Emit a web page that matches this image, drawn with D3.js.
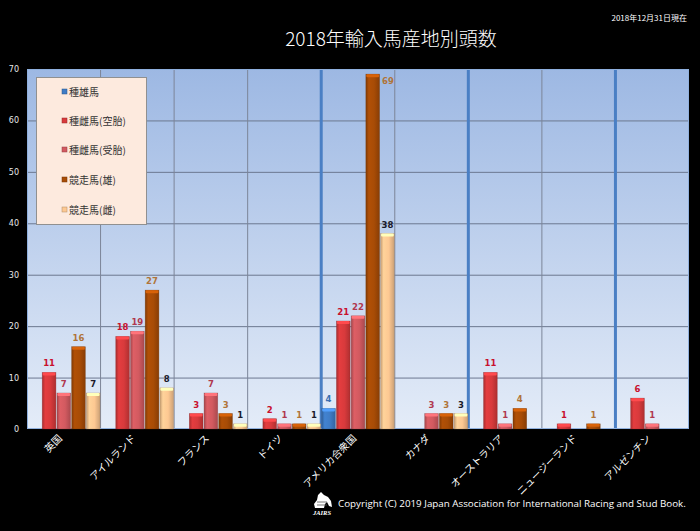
<!DOCTYPE html>
<html><head><meta charset="utf-8">
<script src="https://cdn.jsdelivr.net/npm/d3@7"></script>
<style>html,body{margin:0;padding:0;background:#000;}svg{display:block;}</style>
</head><body>
<svg id="c" width="700" height="531"></svg>
<script>
const categories = ["英国","アイルランド","フランス","ドイツ","アメリカ合衆国","カナダ","オーストラリア","ニュージーランド","アルゼンチン"];
const seriesNames = ["種雄馬","種雌馬(空胎)","種雌馬(受胎)","競走馬(雄)","競走馬(雌)"];
const stallion    = [0, 0, 0, 0, 4, 0, 0, 0, 0];
const mareBarren  = [11,18,3, 2, 21,0, 11,1, 6];
const marePregnant= [7, 19,7, 1, 22,3, 1, 0, 1];
const racerMale   = [16,27,3, 1, 69,3, 4, 1, 0];
const racerFemale = [7, 8, 1, 1, 38,3, 0, 0, 0];
const seriesValues = [stallion, mareBarren, marePregnant, racerMale, racerFemale];
const yTicks = [0,10,20,30,40,50,60,70];

const barColors   = ["#3f7cc6","#d83a3c","#d25a60","#a84c06","#fdc892"];
const labelColors = ["#3a6eb0","#c8102e","#b0384e","#b07438","#1a1a2a"];

const svg = d3.select("#c");
const W=700,H=531;
const L=27,R=689,T=69,B=429;
const jp = "'Noto Sans CJK JP','Noto Sans',sans-serif";

const defs = svg.append("defs");
const bg = defs.append("linearGradient").attr("id","bg").attr("x1",0).attr("y1",0).attr("x2",0).attr("y2",1);
bg.append("stop").attr("offset","0%").attr("stop-color","#9db8e3");
bg.append("stop").attr("offset","100%").attr("stop-color","#e4ecf8");

barColors.forEach((c,i)=>{
  const g = defs.append("linearGradient").attr("id","bar"+i).attr("x1",0).attr("y1",0).attr("x2",1).attr("y2",0);
  const base = d3.color(c);
  g.append("stop").attr("offset","0%").attr("stop-color",base.darker(0.7));
  g.append("stop").attr("offset","22%").attr("stop-color",base.brighter(0.15));
  g.append("stop").attr("offset","60%").attr("stop-color",base);
  g.append("stop").attr("offset","100%").attr("stop-color",base.darker(0.6));
});

svg.append("rect").attr("width",W).attr("height",H).attr("fill","#000");

const x = d3.scaleBand().domain(categories).range([L,R]).padding(0);
const xi = d3.scaleBand().domain(d3.range(seriesNames.length)).range([0,x.bandwidth()]).padding(0);
const y = d3.scaleLinear().domain([0,70]).range([B,T]);

svg.append("rect").attr("x",L).attr("y",T).attr("width",R-L).attr("height",B-T).attr("fill","url(#bg)");

svg.append("g").selectAll("line").data(yTicks.slice(1)).join("line")
  .attr("x1",L).attr("x2",R).attr("y1",d=>y(d)+0.5).attr("y2",d=>y(d)+0.5)
  .attr("stroke","#6c7890").attr("stroke-width",1);

const blueIdx = new Set([4,6,8]);
svg.append("g").selectAll("line").data(categories.slice(1)).join("line")
  .attr("x1",d=>x(d)).attr("x2",d=>x(d)).attr("y1",T).attr("y2",B)
  .attr("stroke",(d,i)=>blueIdx.has(i+1)?"#4a7fc4":"#7c8598")
  .attr("stroke-width",(d,i)=>blueIdx.has(i+1)?3:1);

svg.append("rect").attr("x",L+0.5).attr("y",T+0.5).attr("width",R-L-1).attr("height",B-T-1)
  .attr("fill","none").attr("stroke","#8fb0de").attr("stroke-width",1);

const data = [];
categories.forEach((c,ci)=>seriesValues.forEach((arr,si)=>data.push({c,si,v:arr[ci]})));
const nz = data.filter(d=>d.v>0);
const gb = svg.append("g");
gb.selectAll("rect.bar").data(nz).join("rect").attr("class","bar")
  .attr("x",d=>x(d.c)+xi(d.si)+0.5).attr("width",xi.bandwidth()-1)
  .attr("y",d=>y(d.v)).attr("height",d=>B-y(d.v))
  .attr("fill",d=>`url(#bar${d.si})`)
  .attr("stroke",d=>d3.color(barColors[d.si]).darker(1.2)).attr("stroke-opacity",0.5).attr("stroke-width",0.6);
gb.selectAll("rect.cap").data(nz).join("rect").attr("class","cap")
  .attr("x",d=>x(d.c)+xi(d.si)+1).attr("width",xi.bandwidth()-2)
  .attr("y",d=>y(d.v)).attr("height",d=>Math.min(3,B-y(d.v)))
  .attr("rx",1)
  .attr("fill",d=>d3.color(barColors[d.si]).brighter(0.7));

svg.append("g").selectAll("text").data(nz).join("text")
  .attr("x",d=>d.v>65 ? x(d.c)+xi(d.si)+xi.bandwidth()+2 : x(d.c)+xi(d.si)+xi.bandwidth()/2)
  .attr("y",d=>d.v>65 ? y(d.v)+10 : y(d.v)-6)
  .attr("text-anchor",d=>d.v>65?"start":"middle")
  .attr("font-family","'DejaVu Sans',sans-serif").attr("font-weight","bold").attr("font-size",8.5)
  .attr("fill",d=>labelColors[d.si]).text(d=>d.v);

const ya = svg.append("g").attr("transform",`translate(${L-8},0)`)
  .call(d3.axisLeft(y).tickValues(yTicks).tickSize(0).tickPadding(0));
ya.select(".domain").remove();
ya.selectAll("text").attr("fill","#e8e8e8").attr("font-family","'DejaVu Sans',sans-serif").attr("font-size",8);

const xa = svg.append("g").attr("transform",`translate(0,${B})`)
  .call(d3.axisBottom(x).tickSize(0).tickPadding(0));
xa.select(".domain").remove();
xa.selectAll("text").attr("fill","#ffffff").attr("font-family",jp).attr("font-size",10)
  .attr("text-anchor","end").attr("dy",0).attr("transform","translate(-1,10) rotate(-45)");

const lg = svg.append("g");
lg.append("rect").attr("x",36.5).attr("y",77.5).attr("width",110).attr("height",147)
  .attr("fill","#fdeade").attr("stroke","#909090").attr("stroke-width",1);
const legY = [92,121,150,180,210];
seriesNames.forEach((s,i)=>{
  lg.append("rect").attr("x",62).attr("y",legY[i]-3).attr("width",5).attr("height",5)
    .attr("fill",barColors[i]).attr("stroke",d3.color(barColors[i]).darker(1)).attr("stroke-width",0.5);
  lg.append("text").attr("x",69).attr("y",legY[i]+4).attr("font-family",jp).attr("font-size",10)
    .attr("fill","#333").text(s);
});

svg.append("text").attr("x",391).attr("y",46).attr("text-anchor","middle")
  .attr("font-family",jp).attr("font-size",19).attr("font-weight",300).attr("fill","#ffffff")
  .text("2018年輸入馬産地別頭数");
svg.append("text").attr("x",687).attr("y",21).attr("text-anchor","end")
  .attr("font-family",jp).attr("font-size",8).attr("fill","#ffffff").text("2018年12月31日現在");

// footer: fit font size to target width
const copy = svg.append("text").attr("x",338).attr("y",507).attr("font-family","'Open Sans','DejaVu Sans',sans-serif")
  .attr("font-size",10.5).attr("fill","#ffffff")
  .text("Copyright (C) 2019 Japan Association for International  Racing and Stud Book.");
const cw = copy.node().getComputedTextLength();
if (cw > 0) copy.attr("font-size", Math.min(11, 10.5*348/cw));

const logo = svg.append("g").attr("transform","translate(312,492)");
logo.append("path").attr("d","M9,0 L12,3 L16,5 L19,9 L20,15 L17,14 L15,10 L13,12 L12,16 L3,16 L2,12 L5,8 L6,3 Z")
  .attr("fill","#ffffff");
logo.append("path").attr("d","M5,10 L15,10 M5,13 L15,13").attr("stroke","#555").attr("stroke-width",0.8);
logo.append("text").attr("x",10).attr("y",23).attr("text-anchor","middle").attr("font-family","'Liberation Serif',serif")
  .attr("font-style","italic").attr("font-weight","bold").attr("font-size",6.5).attr("fill","#ffffff").text("JAIRS");
</script>
</body></html>
